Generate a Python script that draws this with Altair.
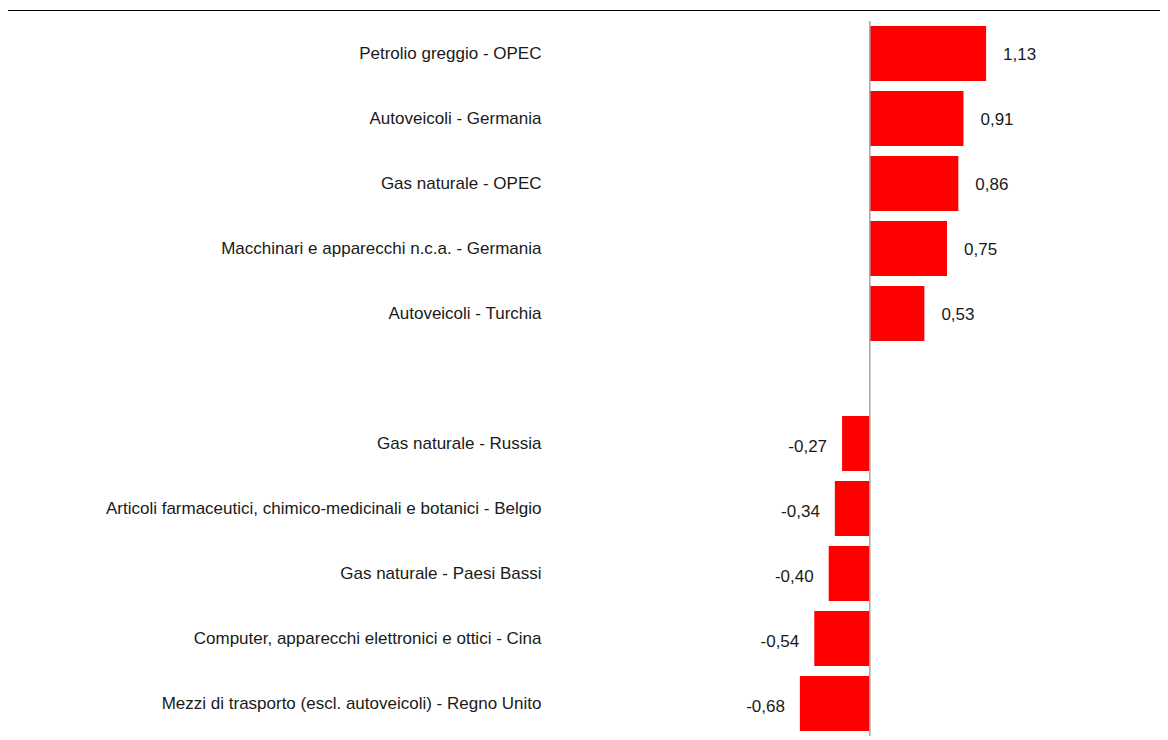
import altair as alt
import pandas as pd

categories = [
    "Petrolio greggio - OPEC",
    "Autoveicoli - Germania",
    "Gas naturale - OPEC",
    "Macchinari e apparecchi n.c.a. - Germania",
    "Autoveicoli - Turchia",
    "Gas naturale - Russia",
    "Articoli farmaceutici, chimico-medicinali e botanici - Belgio",
    "Gas naturale - Paesi Bassi",
    "Computer, apparecchi elettronici e ottici - Cina",
    "Mezzi di trasporto (escl. autoveicoli) - Regno Unito",
]
values = [1.13, 0.91, 0.86, 0.75, 0.53, -0.27, -0.34, -0.40, -0.54, -0.68]

# band order: 5 positive, an empty spacer row, 5 negative
domain_order = categories[:5] + [" "] + categories[5:]

df = pd.DataFrame({"cat": categories, "val": values})
df["lab"] = [f"{v:.2f}".replace(".", ",") for v in values]
df["sign"] = ["pos" if v >= 0 else "neg" for v in values]

FONT = "Liberation Sans"
FS = 17

y_scale = alt.Scale(domain=domain_order, paddingInner=0.154, paddingOuter=0.077)
y_enc = alt.Y(
    "cat:N",
    scale=y_scale,
    axis=alt.Axis(
        title=None, ticks=False, domain=False, grid=False, labelPadding=14,
        labelFont=FONT, labelFontSize=FS, labelColor="#1a1a1a", labelLimit=600,
    ),
)
x_scale = alt.Scale(domain=[-3.06, 2.82], nice=False, zero=False)
x_enc = alt.X("val:Q", scale=x_scale, axis=None)

base = alt.Chart(df)

bars = base.mark_bar(color="#ff0000").encode(x=x_enc, y=y_enc)

pos_text = base.transform_filter(alt.datum.sign == "pos").mark_text(
    align="left", baseline="middle", dx=17, dy=1, font=FONT, fontSize=FS, color="#1a1a1a"
).encode(x=x_enc, y=y_enc, text="lab:N")

neg_text = base.transform_filter(alt.datum.sign == "neg").mark_text(
    align="right", baseline="middle", dx=-15, dy=3, font=FONT, fontSize=FS, color="#1a1a1a"
).encode(x=x_enc, y=y_enc, text="lab:N")

zero_rule = alt.Chart(pd.DataFrame({"z": [0]})).mark_rule(color="#a6a6a6", strokeWidth=1.5).encode(
    x=alt.X("z:Q", scale=x_scale, axis=None),
    y=alt.value(0), y2=alt.value(725),
)

top_rule = alt.Chart(pd.DataFrame({"z": [0]})).mark_rule(color="#000000", strokeWidth=1).encode(
    x=alt.value(-549), x2=alt.value(620), y=alt.value(-10.5),
)

chart = alt.layer(bars, zero_rule, pos_text, neg_text, top_rule).properties(
    width=605, height=715,
    background="white",
    autosize=alt.AutoSizeParams(type="none"),
    padding={"left": 547, "top": 13, "right": 0, "bottom": 0},
).configure_view(strokeWidth=0, stroke="transparent").configure_axis(
    grid=False, domain=False, ticks=False
)

chart.save("out.html", embed_options={"renderer": "svg", "actions": False})
